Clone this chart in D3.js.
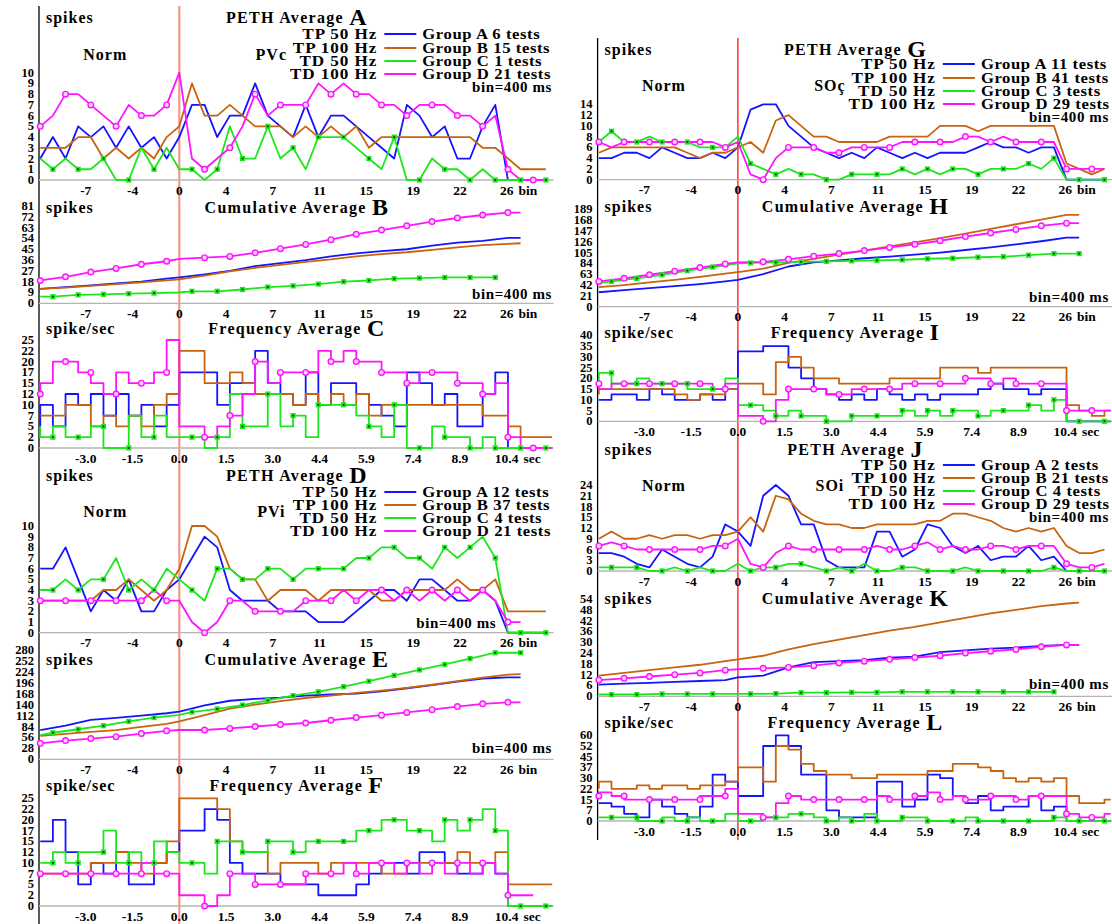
<!DOCTYPE html>
<html><head><meta charset="utf-8">
<script src="https://cdn.jsdelivr.net/npm/d3@7"></script>
<style>
body{margin:0;background:#fff;}
svg text{font-family:"Liberation Serif","Times New Roman",serif;font-weight:bold;fill:#000;}
</style></head><body>
<svg id="c" width="1112" height="924"></svg>
<script>
// ---------------- DATA ----------------
const BINS = d3.range(-11, 30); // bin index of every PETH / frequency value
const seriesColors = ['#1414ff', '#c8640f', '#1ee61e', '#ff14ff'];
const stimLabels = ['TP 50 Hz', 'TP 100 Hz', 'TD 50 Hz', 'TD 100 Hz'];
const groupsA = ['Group A 6 tests', 'Group B 15 tests', 'Group C 1 tests', 'Group D 21 tests'];
const groupsD = ['Group A 12 tests', 'Group B 37 tests', 'Group C 4 tests', 'Group D 21 tests'];
const groupsG = ['Group A 11 tests', 'Group B 41 tests', 'Group C 3 tests', 'Group D 29 tests'];
const groupsJ = ['Group A 2 tests', 'Group B 21 tests', 'Group C 4 tests', 'Group D 29 tests'];

const xTickBins = [-7.4, -3.7, 0, 3.7, 7.4, 11.1, 14.8, 18.5, 22.2, 25.9];
const binTickLabels = ['-7', '-4', '0', '4', '7', '11', '15', '19', '22', '26'];
const secTickLabels = ['-3.0', '-1.5', '0.0', '1.5', '3.0', '4.4', '5.9', '7.4', '8.9', '10.4'];

const yTicksPeth10 = [0,1,2,3,4,5,6,7,8,9,10];
const yTicksB = [0,9,18,27,36,45,54,63,72,81];
const yTicksFreq25 = [0,2.5,5,7.5,10,12.5,15,17.5,20,22.5,25];
const yTicksE = [0,28,56,84,112,140,168,196,224,252,280];
const yTicksG = [0,2,4,6,8,10,12,14];
const yTicksH = [0,21,42,63,84,105,126,147,168,189];
const yTicksI = [0,5,10,15,20,25,30,35,40];
const yTicksJ = [0,3,6,9,12,15,18,21,24];
const yTicksK = [0,6,12,18,24,30,36,42,48,54];
const yTicksL = [0,7.5,15,22.5,30,37.5,45,52.5,60];

// PETH (spikes per bin), bins -11..29
const pethA_blue    = [2,4,2,5,4,5,3,5,3,4,2,4,7,7,4,6,6,9,6,5,4,7,4,6,6,5,4,3,2,7,6,4,5,2,2,5,7,0,0,0,0];
const pethA_brown   = [3,3,3,4,4,2,3,2,3,2,4,5,9,6,6,7,6,5,5,5,4,5,4,5,4,5,3,4,4,4,4,4,4,4,4,3,3,2,1,1,1];
const pethA_green   = [2,1,2,1,1,2,0,0,3,1,3,1,1,0,1,5,2,2,5,2,3,1,4,4,4,3,2,1,4,0,0,2,1,1,0,1,0,0,0,0,0];
const pethA_magenta = [5,6,8,8,7,6,5,7,6,6,7,10,2,1,2,3,5,8,6,7,7,7,9,8,9,8,8,7,7,6,7,7,7,6,6,5,6,1,0,0,0];

const pethD_blue    = [6,6,8,5,2,4,3,5,2,2,4,5,7,9,8,4,3,3,3,2,2,2,1,1,1,2,3,4,4,3,5,5,4,3,3,4,3,0,0,0,0];
const pethD_brown   = [3,3,3,3,3,4,4,5,4,3,4,6,10,10,9,6,5,5,3,4,4,4,3,4,4,4,4,3,3,4,4,4,4,5,4,4,5,2,2,2,2];
const pethD_green   = [4,4,5,4,5,5,7,4,5,4,6,5,4,3,6,6,5,5,6,6,5,6,6,6,6,7,7,8,8,7,7,6,8,7,8,9,7,0,0,0,0];
const pethD_magenta = [3,3,3,3,3,3,3,3,3,4,3,3,1,0,1,3,3,2,2,2,2,3,3,3,4,3,4,4,3,4,3,4,3,4,3,4,3,1,1,null,null];

const pethG_blue    = [4,4,5,5,4,6,5,4,4,5,4,6,13,14,14,10,8,6,5,4,5,4,6,5,4,5,4,5,5,5,6,7,6,6,5,6,6,0,0,0,0];
const pethG_brown   = [5,6,6,6,6,6,6,5,4,5,5,6,7,5,11,12,10,8,8,7,7,7,7,8,8,8,8,10,10,10,9,10,10,10,10,10,10,3,2,1,2];
const pethG_green   = [7,9,7,7,8,7,7,7,6,6,6,8,3,2,1,2,1,1,0,0,1,1,1,1,2,1,2,1,2,2,1,2,2,2,3,2,4,0,0,0,0];
const pethG_magenta = [7,6,7,7,7,7,7,7,7,7,6,7,1,0,4,6,6,6,5,5,6,6,6,6,7,7,7,7,7,8,8,7,8,7,7,7,7,2,2,2,2];

const pethJ_blue    = [5,5,4,2,1,6,4,2,1,4,13,11,7,21,24,21,13,13,3,1,1,1,11,11,4,6,13,12,7,5,7,3,4,4,7,3,4,0,0,0,0];
const pethJ_brown   = [9,11,9,9,10,9,10,10,9,10,10,11,15,11,21,20,16,14,13,13,12,12,13,13,13,13,14,14,16,16,15,14,12,11,12,11,12,7,5,5,6];
const pethJ_green   = [1,1,1,1,0,0,1,0,1,0,0,2,0,1,1,2,2,1,0,1,0,2,0,0,1,1,0,0,0,1,0,0,0,0,0,0,1,0,0,0,0];
const pethJ_magenta = [7,8,7,6,6,6,6,6,6,7,7,9,2,1,5,7,6,6,6,6,6,6,7,6,6,7,8,6,7,6,6,7,7,6,7,7,7,2,1,1,2];

// Frequency (spike/sec), bins -11..29
const freqC_blue    = [5,10,5,12.5,10,12.5,7.5,12.5,7.5,10,5,10,17.5,17.5,10,15,15,22.5,15,12.5,10,17.5,10,15,15,12.5,10,7.5,5,17.5,15,10,12.5,5,5,12.5,17.5,0,0,0,0];
const freqC_brown   = [7.5,7.5,7.5,10,10,5,7.5,5,7.5,5,10,12.5,22.5,15,15,17.5,15,12.5,12.5,12.5,10,12.5,10,12.5,10,12.5,7.5,10,10,10,10,10,10,10,10,7.5,7.5,5,2.5,2.5,2.5];
const freqC_green   = [5,2.5,5,2.5,2.5,5,0,0,7.5,2.5,7.5,2.5,2.5,0,2.5,12.5,5,5,12.5,5,7.5,2.5,10,10,10,7.5,5,2.5,10,0,0,5,2.5,2.5,0,2.5,0,0,0,0,0];
const freqC_magenta = [12.5,15,20,20,17.5,15,12.5,17.5,15,15,17.5,25,5,2.5,5,7.5,12.5,20,15,17.5,17.5,17.5,22.5,20,22.5,20,20,17.5,17.5,15,17.5,17.5,17.5,15,15,12.5,15,2.5,0,0,0];

const freqF_blue    = [15,15,20,12.5,5,10,7.5,12.5,5,5,10,12.5,17.5,22.5,20,10,7.5,7.5,7.5,5,5,5,2.5,2.5,2.5,5,7.5,10,10,7.5,12.5,12.5,10,7.5,7.5,10,7.5,0,0,0,0];
const freqF_brown   = [7.5,7.5,7.5,7.5,7.5,10,10,12.5,10,7.5,10,15,25,25,22.5,15,12.5,12.5,7.5,10,10,10,7.5,10,10,10,10,7.5,7.5,10,10,10,10,12.5,10,10,12.5,5,5,5,5];
const freqF_green   = [10,10,12.5,10,12.5,12.5,17.5,10,12.5,10,15,12.5,10,7.5,15,15,12.5,12.5,15,15,12.5,15,15,15,15,17.5,17.5,20,20,17.5,17.5,15,20,17.5,20,22.5,17.5,0,0,0,0];
const freqF_magenta = [7.5,7.5,7.5,7.5,7.5,7.5,7.5,7.5,7.5,10,7.5,7.5,2.5,0,2.5,7.5,7.5,5,5,5,5,7.5,7.5,7.5,10,7.5,10,10,7.5,10,7.5,10,7.5,10,7.5,10,7.5,2.5,2.5,null,null];

const freqI_blue    = [10,10,12.5,12.5,10,15,12.5,10,10,12.5,10,15,32.5,35,35,25,20,15,12.5,10,12.5,10,15,12.5,10,12.5,10,12.5,12.5,12.5,15,17.5,15,15,12.5,15,15,0,0,0,0];
const freqI_brown   = [12.5,15,15,15,15,15,15,12.5,10,12.5,12.5,15,17.5,12.5,27.5,30,25,20,20,17.5,17.5,17.5,17.5,20,20,20,20,25,25,25,22.5,25,25,25,25,25,25,7.5,5,2.5,5];
const freqI_green   = [17.5,22.5,17.5,17.5,20,17.5,17.5,17.5,15,15,15,20,7.5,5,2.5,5,2.5,2.5,0,0,2.5,2.5,2.5,2.5,5,2.5,5,2.5,5,5,2.5,5,5,5,7.5,5,10,0,0,0,0];
const freqI_magenta = [17.5,15,17.5,17.5,17.5,17.5,17.5,17.5,17.5,17.5,15,17.5,2.5,0,10,15,15,15,12.5,12.5,15,15,15,15,17.5,17.5,17.5,17.5,17.5,20,20,17.5,20,17.5,17.5,17.5,17.5,5,5,5,5];

const freqL_blue    = [12.5,12.5,10,5,2.5,15,10,5,2.5,10,32.5,27.5,17.5,52.5,60,52.5,32.5,32.5,7.5,2.5,2.5,2.5,27.5,27.5,10,15,32.5,30,17.5,12.5,17.5,7.5,10,10,17.5,7.5,10,0,0,0,0];
const freqL_brown   = [22.5,27.5,22.5,22.5,25,22.5,25,25,22.5,25,25,27.5,37.5,27.5,52.5,50,40,35,32.5,32.5,30,30,32.5,32.5,32.5,32.5,35,35,40,40,37.5,35,30,27.5,30,27.5,30,17.5,12.5,12.5,15];
const freqL_green   = [2.5,2.5,2.5,2.5,0,0,2.5,0,2.5,0,0,5,0,2.5,2.5,5,5,2.5,0,2.5,0,5,0,0,2.5,2.5,0,0,0,2.5,0,0,0,0,0,0,2.5,0,0,0,0];
const freqL_magenta = [17.5,20,17.5,15,15,15,15,15,15,17.5,17.5,22.5,5,2.5,12.5,17.5,15,15,15,15,15,15,17.5,15,15,17.5,20,15,17.5,15,15,17.5,17.5,15,17.5,17.5,17.5,5,2.5,2.5,5];

// Cumulative averages, sampled at these bins
const cumBinsM = [-11,-9,-7,-5,-3,-1,0,2,4,6,8,10,12,14,16,18,20,22,24,26,27];
const cumBinsG = [-11,-10,-8,-6,-4,-2,0,1,3,5,7,9,11,13,15,17,19,21,23,25,27];

const cumB_blue    = [12,13.5,15,16.5,18,20.5,21.5,24,27,31,33.5,36,39,41.5,43.5,45,48,50.5,52,54.5,54.5];
const cumB_brown   = [12,13,14.5,16,17.5,19,20,23,26.5,29.5,32,34.5,36.5,39,41,42.5,44.5,46.5,48.5,49.5,50];
const cumB_green   = [5.5,5.5,7,7.5,8,8.5,9,10,10,11.5,13.5,14.5,16,18,19,20.5,21,21.5,21.5,21.5];
const cumB_magenta = [19,22,26,29,32.5,35,37,38,39,42,45.5,49,53,57.5,61,64.5,68,71,73.5,75.5,75.5];

const cumE_blue    = [75,86,101,106,112,118,122,138,150,155,158,163,166,168,174,182,190,199,207,210,210];
const cumE_brown   = [60,65,70,75,83,91,97,113,130,140,149,157,163,170,176,183,191,200,209,217,218];
const cumE_green   = [62,68,77,86,97,107,114,121,129,139,151,163,173,186,200,215,229,243,258,273,273];
const cumE_magenta = [41,48,53,58,66,73,75,75,79,84,89,93,100,107,113,120,127,135,142,146,146];

const cumH_blue    = [28,32,36,40,44,49,52,63,78,86,90,94,97,101,105,110,115,121,127,134,134];
const cumH_brown   = [38,42,47,52,58,64,67,74,85,93,101,109,117,125,133,142,151,160,169,178,178];
const cumH_green   = [46,49,55,62,70,77,84,85,86,87,88,89,90,91,93,94,96,97,100,103,103];
const cumH_magenta = [49,55,62,69,76,83,86,87,92,98,103,109,115,121,128,136,143,150,157,162,162];

const cumK_blue    = [6.5,7,7.5,8,8.5,9,10.5,11.5,16,19,19.5,20,21.5,22,24.5,25.5,26.5,27,28,28.5,28.5];
const cumK_brown   = [11.5,13,14.5,16,17.5,19.5,20.5,22.5,26,29,31.5,34,36.5,38.5,41,43.5,46,48,50,51.5,52];
const cumK_green   = [1,1,1,1.3,1.3,1.3,1.3,1.3,1.5,2,2,2.2,2.2,2.5,2.5,2.5,2.5,2.5,2.5,2.5];
const cumK_magenta = [9,10,11,12,13,14.5,15,15.5,16,17,18.5,19.5,20.5,21.5,22.5,24,25,26,27.5,28.5,28.5];

// ---------------- LAYOUT ----------------
const BW = 12.64;
const xDom = [-11.1, 29.6];
const colDefs = {
  L: {x0: 179.3, top: 6, bot: 924, red: '#f4978a', redW: 2.2},
  R: {x0: 737.9, top: 38, bot: 840, red: '#ff0000', redW: 1.2}
};

const panels = [
  {col:'L', kind:'peth', data:[pethA_blue,pethA_brown,pethA_green,pethA_magenta], y0:180, vRef:10, yRef:72.7, ticks:yTicksPeth10,
   title:'PETH Average', letter:'A', ylab:'spikes', ty:17, legend:{rows:[34,48,61,74], groups:groupsA}, norm:{y:54, label:'PVc'}, binTxt:{dx:372.7, y:87}},
  {col:'L', kind:'cum', data:[cumB_blue,cumB_brown,cumB_green,cumB_magenta], y0:303.3, vRef:81, yRef:206, ticks:yTicksB,
   title:'Cumulative Average', letter:'B', ylab:'spikes', ty:207, binTxt:{dx:372.7, y:294}},
  {col:'L', kind:'freq', data:[freqC_blue,freqC_brown,freqC_green,freqC_magenta], y0:448, vRef:25, yRef:340, ticks:yTicksFreq25,
   title:'Frequency Average', letter:'C', ylab:'spike/sec', ty:328},
  {col:'L', kind:'peth', data:[pethD_blue,pethD_brown,pethD_green,pethD_magenta], y0:632.7, vRef:10, yRef:526, ticks:yTicksPeth10,
   title:'PETH Average', letter:'D', ylab:'spikes', ty:475, legend:{rows:[492,505,518,531], groups:groupsD}, norm:{y:511, label:'PVi'}, binTxt:{dx:317, y:623}},
  {col:'L', kind:'cum', data:[cumE_blue,cumE_brown,cumE_green,cumE_magenta], y0:759.3, vRef:280, yRef:650, ticks:yTicksE,
   title:'Cumulative Average', letter:'E', ylab:'spikes', ty:659, binTxt:{dx:372.7, y:748}},
  {col:'L', kind:'freq', data:[freqF_blue,freqF_brown,freqF_green,freqF_magenta], y0:906, vRef:25, yRef:798.3, ticks:yTicksFreq25,
   title:'Frequency Average', letter:'F', ylab:'spike/sec', ty:785},
  {col:'R', kind:'peth', data:[pethG_blue,pethG_brown,pethG_green,pethG_magenta], y0:179.7, vRef:14, yRef:104.3, ticks:yTicksG,
   title:'PETH Average', letter:'G', ylab:'spikes', ty:49, legend:{rows:[64,78,91,104], groups:groupsG}, norm:{y:85, label:'SOç'}, binTxt:{dx:371, y:117}},
  {col:'R', kind:'cum', data:[cumH_blue,cumH_brown,cumH_green,cumH_magenta], y0:306.7, vRef:189, yRef:209.3, ticks:yTicksH,
   title:'Cumulative Average', letter:'H', ylab:'spikes', ty:206, binTxt:{dx:371, y:297}},
  {col:'R', kind:'freq', data:[freqI_blue,freqI_brown,freqI_green,freqI_magenta], y0:421.3, vRef:40, yRef:335.3, ticks:yTicksI,
   title:'Frequency Average', letter:'I', ylab:'spike/sec', ty:332},
  {col:'R', kind:'peth', data:[pethJ_blue,pethJ_brown,pethJ_green,pethJ_magenta], y0:571, vRef:24, yRef:485, ticks:yTicksJ,
   title:'PETH Average', letter:'J', ylab:'spikes', ty:449, legend:{rows:[465,478,491,504], groups:groupsJ}, norm:{y:485, label:'SOi'}, binTxt:{dx:371, y:517}},
  {col:'R', kind:'cum', data:[cumK_blue,cumK_brown,cumK_green,cumK_magenta], y0:696.3, vRef:54, yRef:599, ticks:yTicksK,
   title:'Cumulative Average', letter:'K', ylab:'spikes', ty:598, binTxt:{dx:371, y:684}},
  {col:'R', kind:'freq', data:[freqL_blue,freqL_brown,freqL_green,freqL_magenta], y0:821, vRef:60, yRef:735.3, ticks:yTicksL,
   title:'Frequency Average', letter:'L', ylab:'spike/sec', ty:722}
];

const svg = d3.select('#c');
const gAxes = svg.append('g');

function xScaleFor(col){
  const x0 = colDefs[col].x0;
  return d3.scaleLinear().domain(xDom).range([x0 + BW*xDom[0], x0 + BW*xDom[1]]);
}

// column axes (continuous black axis and zero line)
['L','R'].forEach(col => {
  const x = xScaleFor(col), c = colDefs[col];
  gAxes.append('line').attr('x1',x(xDom[0])).attr('x2',x(xDom[0])).attr('y1',c.top).attr('y2',c.bot)
    .attr('stroke','#000').attr('stroke-width',1.3);
  gAxes.append('line').attr('x1',x(0)).attr('x2',x(0)).attr('y1',c.top).attr('y2',c.bot)
    .attr('stroke',c.red).attr('stroke-width',c.redW);
});

const isMagMarker = b => (b < 0 && Math.abs(b) % 2 === 1) || (b > 0 && b % 2 === 0);
const isGrnMarker = b => (b < 0 && b % 2 === 0) || (b > 0 && b % 2 === 1);

function freqVerts(f){
  const v = [[-11, f[0]]];
  for (let b = -10; b <= 0; b++){ const val = f[b+11]; v.push([b-1, val]); v.push([b, val]); }
  const f1 = f[12];
  v.push([0, f1]);
  for (let b = 1; b <= 29; b++){
    const val = f[b+11];
    if (val == null) break;
    if (b === 1) { v.push([1, f1]); v.push([2, f1]); continue; }
    v.push([b, val]); v.push([Math.min(b+1, 29.5), val]);
  }
  return v;
}

// horizontally stretched text (the reference lettering is wide)
function wideText(g, x, y, txt, anchor, size, sx, ls){
  const t = g.append('text').attr('transform', `translate(${x},${y}) scale(${sx},1)`)
    .attr('text-anchor', anchor).attr('dominant-baseline','central')
    .attr('font-size', size).attr('letter-spacing', ls).text(txt);
  return t;
}

function drawPanel(p){
  const x = xScaleFor(p.col);
  const x0 = colDefs[p.col].x0;
  const y = d3.scaleLinear().domain([0, p.vRef]).range([p.y0, p.yRef]);
  const g = svg.append('g');

  // baseline
  g.append('line').attr('x1', x(xDom[0])).attr('x2', x(xDom[1])).attr('y1', y(0)).attr('y2', y(0))
    .attr('stroke', '#b4b4b4').attr('stroke-width', 1.3);

  // y tick labels
  g.selectAll('text.yt').data(p.ticks).join('text').attr('class','yt')
    .attr('x', x(xDom[0]) - 5).attr('y', d => y(d)).attr('text-anchor','end')
    .attr('dominant-baseline','central').attr('font-size', 12.5).text(d => Math.floor(d));

  // x tick labels
  const labs = p.kind === 'freq' ? secTickLabels : binTickLabels;
  const unit = p.kind === 'freq' ? 'sec' : 'bin';
  const ly = y(0) + 10;
  xTickBins.forEach((tb, i) => {
    const t = g.append('text').attr('x', x(tb)).attr('y', ly).attr('text-anchor','middle')
      .attr('dominant-baseline','central').attr('font-size', 13.5).text(labs[i]);
    if (i === xTickBins.length - 1){
      const w = t.node().getComputedTextLength();
      g.append('text').attr('x', x(tb) + w/2 + 5).attr('y', ly).attr('dominant-baseline','central')
        .attr('font-size', 13.5).text(unit);
    }
  });

  // series
  const line = d3.line().defined(d => d[1] != null).x(d => x(d[0])).y(d => y(d[1]));
  const ptsList = p.data.map((arr, si) => {
    if (p.kind === 'cum') { const bins = si === 2 ? cumBinsG : cumBinsM; return arr.map((v, i) => [bins[i], v]); }
    return BINS.map((b, i) => [b, arr[i]]);
  });
  p.data.forEach((arr, si) => {
    const d = p.kind === 'freq' ? freqVerts(arr) : ptsList[si];
    g.append('path').attr('d', line(d)).attr('fill','none').attr('stroke', seriesColors[si])
      .attr('stroke-width', 1.8).attr('stroke-linejoin','round');
  });
  // markers: green squares
  const gp = ptsList[2].filter(d => d[1] != null && isGrnMarker(d[0]));
  g.selectAll('rect.gm').data(gp).join('rect').attr('class','gm')
    .attr('x', d => x(d[0]) - 2.6).attr('y', d => y(d[1]) - 2.6).attr('width', 5.2).attr('height', 5.2)
    .attr('fill', seriesColors[2]);
  g.selectAll('rect.gc').data(gp).join('rect').attr('class','gc')
    .attr('x', d => x(d[0]) - 0.9).attr('y', d => y(d[1]) - 0.9).attr('width', 1.8).attr('height', 1.8)
    .attr('fill', '#064006');
  // markers: magenta circles
  const mp = ptsList[3].filter(d => d[1] != null && isMagMarker(d[0]));
  g.selectAll('circle.mm').data(mp).join('circle').attr('class','mm')
    .attr('cx', d => x(d[0])).attr('cy', d => y(d[1])).attr('r', 2.8)
    .attr('fill', '#ffd8ff').attr('stroke', seriesColors[3]).attr('stroke-width', 1.4);

  // texts
  g.append('text').attr('x', x(xDom[0]) + 7).attr('y', p.ty).attr('dominant-baseline','central')
    .attr('font-size', 16).attr('letter-spacing', 1).text(p.ylab);
  const tt = g.append('text').attr('x', x0 + 117).attr('y', p.ty).attr('text-anchor','middle')
    .attr('dominant-baseline','central');
  tt.append('tspan').attr('font-size', 16).attr('letter-spacing', 1.3).text(p.title + ' ');
  tt.append('tspan').attr('font-size', 24).text(p.letter);

  if (p.legend){
    p.legend.rows.forEach((ry, i) => {
      wideText(g, x0 + 198, ry, stimLabels[i], 'end', 14.5, 1.18, 0.8);
      g.append('line').attr('x1', x0 + 205).attr('x2', x0 + 237).attr('y1', ry).attr('y2', ry)
        .attr('stroke', seriesColors[i]).attr('stroke-width', 1.8);
      wideText(g, x0 + 243, ry, p.legend.groups[i], 'start', 14.5, 1.15, 0.5);
    });
  }
  if (p.norm){
    g.append('text').attr('x', x0 - 74).attr('y', p.norm.y).attr('text-anchor','middle')
      .attr('dominant-baseline','central').attr('font-size', 16).attr('letter-spacing', 1).text('Norm');
    g.append('text').attr('x', x0 + 92).attr('y', p.norm.y).attr('text-anchor','middle')
      .attr('dominant-baseline','central').attr('font-size', 16).attr('letter-spacing', 1).text(p.norm.label);
  }
  if (p.binTxt){
    g.append('text').attr('x', x0 + p.binTxt.dx).attr('y', p.binTxt.y).attr('text-anchor','end')
      .attr('dominant-baseline','central').attr('font-size', 15).attr('letter-spacing', 0.6).text('bin=400 ms');
  }
}

panels.forEach(drawPanel);
</script>
</body></html>
